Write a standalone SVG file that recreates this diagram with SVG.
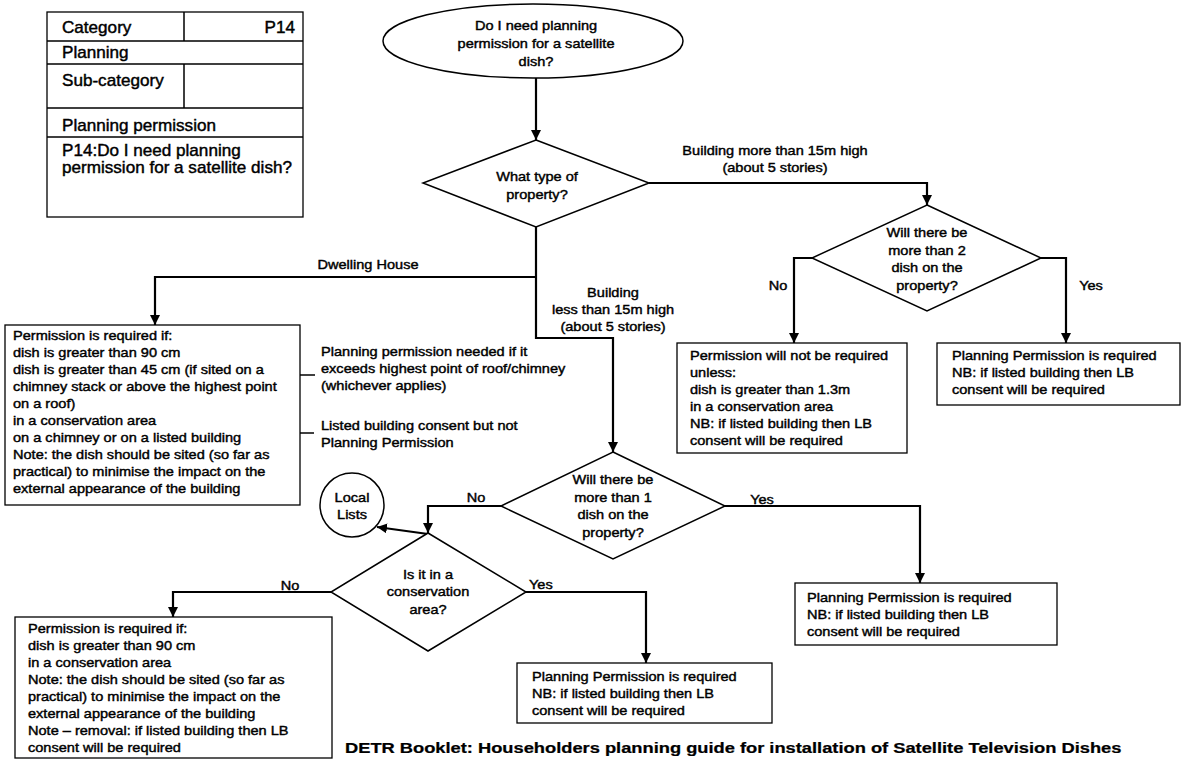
<svg xmlns="http://www.w3.org/2000/svg" width="1182" height="760" viewBox="0 0 1182 760">
<defs>
<marker id="ah" viewBox="0 0 10 10" refX="10" refY="5" markerWidth="10" markerHeight="10" markerUnits="userSpaceOnUse" orient="auto"><path d="M0,0 L10,5 L0,10 z" fill="#000"/></marker>
</defs>
<style>
.t{font-family:"Liberation Sans",Arial,sans-serif;font-size:13px;fill:#000;stroke:#000;stroke-width:0.42}
.c{text-anchor:middle}
.e{text-anchor:end}
.tb{font-size:16px}
.title{font-weight:bold;font-size:15.5px;stroke-width:0.25}
.box{fill:#fff;stroke:#000;stroke-width:1.3}
.shape{fill:#fff;stroke:#000;stroke-width:1.5}
.conn{fill:none;stroke:#000;stroke-width:2.2}
.thin{fill:none;stroke:#000;stroke-width:1.5}
</style>
<rect width="1182" height="760" fill="#fff"/>

<g id="table">
<rect class="box" x="47" y="12" width="256" height="205"/>
<path class="thin" d="M47,41 H303 M47,64 H303 M47,108 H303 M47,137 H303 M184,12 V41 M184,64 V108"/>
<text class="t tb" transform="translate(62 33) scale(1.07 1)">Category</text>
<text class="t tb e" transform="translate(295 33) scale(1.07 1)">P14</text>
<text class="t tb" transform="translate(62 58) scale(1.07 1)">Planning</text>
<text class="t tb" transform="translate(62 86) scale(1.07 1)">Sub-category</text>
<text class="t tb" transform="translate(62 131) scale(1.07 1)">Planning permission</text>
<text class="t tb" transform="translate(62 156) scale(1.07 1)"><tspan x="0" y="0">P14:Do I need planning</tspan><tspan x="0" y="17">permission for a satellite dish?</tspan></text>
</g>

<g id="start">
<ellipse class="shape" cx="533" cy="41" rx="150" ry="37"/>
<text class="t c" transform="translate(536 30) scale(1.12 1)"><tspan x="0" y="0">Do I need planning</tspan><tspan x="0" y="18">permission for a satellite</tspan><tspan x="0" y="36">dish?</tspan></text>
</g>

<g id="connectors">
<path class="conn" d="M536,78 V140" marker-end="url(#ah)"/>
<path class="conn" d="M649,183 H927 V205" marker-end="url(#ah)"/>
<path class="conn" d="M536,227 V338 H613 V452" marker-end="url(#ah)"/>
<path class="conn" d="M536,277 H155 V325" marker-end="url(#ah)"/>
<path class="conn" d="M812,258 H794 V343" marker-end="url(#ah)"/>
<path class="conn" d="M1041,258 H1066 V343" marker-end="url(#ah)"/>
<path class="conn" d="M501,506 H428 V533" marker-end="url(#ah)"/>
<path class="conn" d="M428,534 L377,527" marker-end="url(#ah)"/>
<path class="conn" d="M725,506 H920 V583" marker-end="url(#ah)"/>
<path class="conn" d="M332,592 H173 V617" marker-end="url(#ah)"/>
<path class="conn" d="M526,592 H646 V663" marker-end="url(#ah)"/>
<path class="thin" d="M267,375 H315"/>
<path class="thin" d="M268,433 H314"/>
</g>

<g id="labels">
<text class="t c" transform="translate(775 155) scale(1.12 1)"><tspan x="0" y="0">Building more than 15m high</tspan><tspan x="0" y="17">(about 5 stories)</tspan></text>
<text class="t c" transform="translate(368 269) scale(1.12 1)">Dwelling House</text>
<text class="t c" transform="translate(613 297) scale(1.12 1)"><tspan x="0" y="0">Building</tspan><tspan x="0" y="17">less than 15m high</tspan><tspan x="0" y="34">(about 5 stories)</tspan></text>
<text class="t c" transform="translate(778 290) scale(1.12 1)">No</text>
<text class="t c" transform="translate(1091 290) scale(1.12 1)">Yes</text>
<text class="t c" transform="translate(476 502) scale(1.12 1)">No</text>
<text class="t c" transform="translate(762 504) scale(1.12 1)">Yes</text>
<text class="t c" transform="translate(290 590) scale(1.12 1)">No</text>
<text class="t" transform="translate(529 589) scale(1.12 1)">Yes</text>
</g>

<g id="q-type">
<polygon class="shape" points="536,140 649,183 536,227 423,183"/>
<text class="t c" transform="translate(537 181) scale(1.12 1)"><tspan x="0" y="0">What type of</tspan><tspan x="0" y="18">property?</tspan></text>
</g>

<g id="q-more2">
<polygon class="shape" points="927,205 1041,258 927,311 812,258"/>
<text class="t c" transform="translate(927 237) scale(1.12 1)"><tspan x="0" y="0">Will there be</tspan><tspan x="0" y="17.7">more than 2</tspan><tspan x="0" y="35.4">dish on the</tspan><tspan x="0" y="53">property?</tspan></text>
</g>

<g id="q-more1">
<polygon class="shape" points="613,452 725,506 613,559 501,506"/>
<text class="t c" transform="translate(613 484) scale(1.12 1)"><tspan x="0" y="0">Will there be</tspan><tspan x="0" y="17.7">more than 1</tspan><tspan x="0" y="35.4">dish on the</tspan><tspan x="0" y="53">property?</tspan></text>
</g>

<g id="q-conservation">
<polygon class="shape" points="428,533 526,592 428,651 331,592"/>
<text class="t c" transform="translate(428 579) scale(1.12 1)"><tspan x="0" y="0">Is it in a</tspan><tspan x="0" y="17.5">conservation</tspan><tspan x="0" y="35">area?</tspan></text>
</g>

<g id="local-lists">
<circle class="shape" cx="352" cy="505" r="32"/>
<text class="t c" transform="translate(352 502) scale(1.12 1)"><tspan x="0" y="0">Local</tspan><tspan x="0" y="17">Lists</tspan></text>
</g>

<g id="dwelling-box">
<rect class="box" x="5" y="325" width="295" height="180"/>
<text class="t" transform="translate(13 340) scale(1.12 1)"><tspan x="0" y="0">Permission is required if:</tspan><tspan x="0" y="17">dish is greater than 90 cm</tspan><tspan x="0" y="34">dish is greater than 45 cm (if sited on a</tspan><tspan x="0" y="51">chimney stack or above the highest point</tspan><tspan x="0" y="68">on a roof)</tspan><tspan x="0" y="85">in a conservation area</tspan><tspan x="0" y="102">on a chimney or on a listed building</tspan><tspan x="0" y="119">Note:  the dish should be sited (so far as</tspan><tspan x="0" y="136">practical) to minimise the impact on the</tspan><tspan x="0" y="153">external appearance of the building</tspan></text>
</g>

<g id="note-roof">
<text class="t" transform="translate(321 356) scale(1.12 1)"><tspan x="0" y="0">Planning permission needed if it</tspan><tspan x="0" y="17">exceeds highest point of roof/chimney</tspan><tspan x="0" y="34">(whichever applies)</tspan></text>
</g>

<g id="note-listed">
<text class="t" transform="translate(321 430) scale(1.12 1)"><tspan x="0" y="0">Listed building consent but not</tspan><tspan x="0" y="17">Planning Permission</tspan></text>
</g>

<g id="not-required-box">
<rect class="box" x="677" y="343" width="230" height="110"/>
<text class="t" transform="translate(690 360) scale(1.12 1)"><tspan x="0" y="0">Permission will not be required</tspan><tspan x="0" y="17">unless:</tspan><tspan x="0" y="34">dish is greater than 1.3m</tspan><tspan x="0" y="51">in a conservation area</tspan><tspan x="0" y="68">NB: if listed building then LB</tspan><tspan x="0" y="85">consent will be required</tspan></text>
</g>

<g id="pp-box-1">
<rect class="box" x="937" y="343" width="243" height="62"/>
<text class="t" transform="translate(952 360) scale(1.12 1)"><tspan x="0" y="0">Planning Permission is required</tspan><tspan x="0" y="17">NB: if listed building then LB</tspan><tspan x="0" y="34">consent will be required</tspan></text>
</g>

<g id="pp-box-2">
<rect class="box" x="795" y="583" width="262" height="62"/>
<text class="t" transform="translate(807 602) scale(1.12 1)"><tspan x="0" y="0">Planning Permission is required</tspan><tspan x="0" y="17">NB: if listed building then LB</tspan><tspan x="0" y="34">consent will be required</tspan></text>
</g>

<g id="pp-box-3">
<rect class="box" x="517" y="663" width="255" height="60"/>
<text class="t" transform="translate(532 681) scale(1.12 1)"><tspan x="0" y="0">Planning Permission is required</tspan><tspan x="0" y="17">NB: if listed building then LB</tspan><tspan x="0" y="34">consent will be required</tspan></text>
</g>

<g id="conservation-no-box">
<rect class="box" x="15" y="617" width="317" height="141"/>
<text class="t" transform="translate(28 633) scale(1.12 1)"><tspan x="0" y="0">Permission is required if:</tspan><tspan x="0" y="17">dish is greater than 90 cm</tspan><tspan x="0" y="34">in a conservation area</tspan><tspan x="0" y="51">Note:  the dish should be sited (so far as</tspan><tspan x="0" y="68">practical) to minimise the impact on the</tspan><tspan x="0" y="85">external appearance of the building</tspan><tspan x="0" y="102">Note – removal: if listed building then LB</tspan><tspan x="0" y="119">consent will be required</tspan></text>
</g>

<g id="caption">
<text class="t title" transform="translate(345 753) scale(1.18 1)">DETR Booklet: Householders planning guide for installation of Satellite Television Dishes</text>
</g>
</svg>
